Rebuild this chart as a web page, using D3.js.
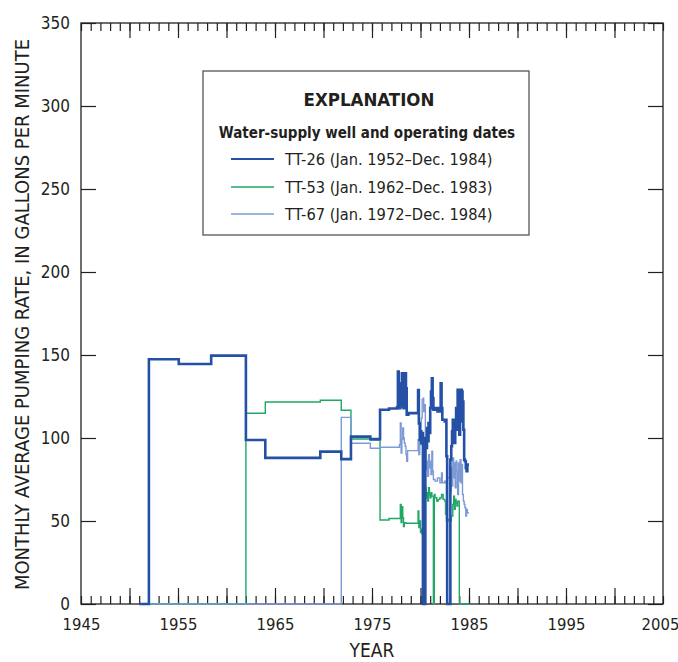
<!DOCTYPE html>
<html>
<head>
<meta charset="utf-8">
<script src="https://cdn.jsdelivr.net/npm/d3@7"></script>
<style>
  html, body { margin: 0; padding: 0; background: #ffffff; }
  svg text { font-family: "Liberation Sans Narrow", "DejaVu Sans Condensed", "Arial Narrow", sans-serif; fill: #231f20; }
</style>
</head>
<body>
<script>
// ---------------- DATA (step series: [decimal year, gallons per minute]) ----------------
const xTickLabels = [1945, 1955, 1965, 1975, 1985, 1995, 2005];
const yTickLabels = [0, 50, 100, 150, 200, 250, 300, 350];

const seriesNames = ["TT-26 (Jan. 1952\u2013Dec. 1984)", "TT-53 (Jan. 1962\u2013Dec. 1983)", "TT-67 (Jan. 1972\u2013Dec. 1984)"];

const tt26 = [
  [1951.0, 0], [1952.0, 147.4], [1955.08, 144.6], [1958.42, 149.6], [1962.0, 98.8], [1964.0, 88.0],
  [1969.67, 91.8], [1971.83, 87.3], [1972.83, 100.8], [1974.83, 99.3], [1975.83, 117.0], [1976.75, 117.8],
  [1977.58, 118.5], [1977.67, 140], [1977.75, 124], [1977.83, 118], [1977.92, 133], [1978.0, 119],
  [1978.08, 139], [1978.17, 120], [1978.25, 118], [1978.33, 126], [1978.42, 139], [1978.5, 130],
  [1978.58, 114], [1978.75, 115], [1979.75, 128.9], [1979.83, 108.8], [1979.92, 98.8], [1980.0, 104],
  [1980.08, 97], [1980.17, 103], [1980.25, 0], [1980.5, 100], [1980.58, 94], [1980.67, 106],
  [1980.75, 98], [1980.83, 109], [1980.92, 103], [1981.0, 118], [1981.08, 128], [1981.17, 136],
  [1981.25, 124], [1981.33, 117], [1981.5, 118], [1981.75, 116], [1982.0, 118], [1982.08, 133],
  [1982.17, 118], [1982.25, 111], [1982.5, 110], [1982.58, 111], [1982.67, 89], [1982.75, 0],
  [1983.08, 87], [1983.17, 95], [1983.25, 104], [1983.33, 111], [1983.42, 100], [1983.5, 97],
  [1983.58, 108], [1983.67, 118], [1983.75, 105], [1983.83, 129], [1983.92, 127], [1984.0, 102],
  [1984.08, 110], [1984.17, 129], [1984.25, 128], [1984.33, 122], [1984.42, 105], [1984.5, 87],
  [1984.58, 86], [1984.67, 82], [1984.75, 80], [1984.83, 84], [1985.0, 84]
];

const tt53 = [
  [1952.0, 0], [1962.0, 114.9], [1964.0, 121.7], [1969.67, 122.7], [1971.83, 116.7], [1972.83, 99.4],
  [1974.83, 98.8], [1975.83, 50.6], [1976.75, 51.5], [1977.83, 51.5], [1977.92, 60], [1978.0, 49],
  [1978.08, 58.6], [1978.17, 52], [1978.25, 46.6], [1978.33, 49], [1978.5, 48.6], [1979.75, 56],
  [1979.83, 46], [1979.92, 50], [1980.0, 43], [1980.08, 45], [1980.17, 42], [1980.25, 44],
  [1980.33, 42], [1980.42, 56], [1980.5, 70], [1980.58, 64], [1980.67, 67], [1980.75, 62],
  [1980.83, 70], [1980.92, 66], [1981.0, 64], [1981.08, 67], [1981.17, 65], [1981.33, 0],
  [1981.42, 66], [1981.5, 64], [1981.67, 62], [1981.83, 63], [1982.0, 64], [1982.17, 66],
  [1982.33, 63], [1982.5, 62], [1982.58, 54], [1982.67, 50], [1982.83, 51], [1983.0, 50],
  [1983.17, 53], [1983.33, 60], [1983.42, 65], [1983.5, 57], [1983.58, 63], [1983.67, 61],
  [1983.75, 59], [1983.83, 62], [1984.0, 0], [1985.08, 0]
];

const tt67 = [
  [1952.0, 0], [1971.83, 112.4], [1972.83, 96.8], [1974.83, 93.8], [1975.83, 94.4], [1977.83, 96],
  [1977.92, 109], [1978.0, 91], [1978.08, 99], [1978.17, 106], [1978.25, 100], [1978.33, 97],
  [1978.42, 95], [1978.5, 90], [1978.58, 86], [1978.67, 92.4], [1979.75, 99], [1979.83, 90],
  [1979.92, 108], [1980.0, 96], [1980.08, 112], [1980.17, 123], [1980.25, 124], [1980.33, 116],
  [1980.42, 120], [1980.5, 96], [1980.58, 81], [1980.67, 86], [1980.75, 77], [1980.83, 90],
  [1980.92, 82], [1981.0, 86], [1981.08, 78], [1981.17, 92], [1981.25, 80], [1981.33, 75],
  [1981.5, 74], [1981.75, 76], [1982.0, 73], [1982.17, 79], [1982.25, 73], [1982.5, 74],
  [1982.58, 73], [1982.67, 54], [1982.75, 76], [1983.0, 83], [1983.08, 68], [1983.17, 82],
  [1983.25, 71], [1983.33, 88], [1983.42, 76], [1983.5, 85], [1983.58, 70], [1983.67, 86],
  [1983.75, 80], [1983.83, 66], [1983.92, 85], [1984.0, 74], [1984.08, 87], [1984.17, 73],
  [1984.25, 84], [1984.33, 66], [1984.42, 62], [1984.5, 60], [1984.58, 58], [1984.67, 53],
  [1984.75, 57], [1984.83, 55], [1985.0, 55]
];

// ---------------- CHART ----------------
const W = 678, H = 662;
const m = { left: 81, right: 15, top: 23, bottom: 58 };
const svg = d3.select("body").append("svg").attr("width", W).attr("height", H);

const x = d3.scaleLinear().domain([1945, 2005]).range([m.left, W - m.right]);
const y = d3.scaleLinear().domain([0, 350]).range([H - m.bottom, m.top]);

const axisColor = "#231f20";
const minorYears = d3.range(1945, 2006, 1);
const majorYears = d3.range(1950, 2005, 5);

function styleAxis(g) {
  g.select(".domain").remove();
  g.selectAll(".tick line").attr("stroke", axisColor).attr("stroke-width", 1.2);
}

// bottom minor / major ticks (inward)
svg.append("g").attr("transform", `translate(0,${y(0)})`)
  .call(d3.axisBottom(x).tickValues(minorYears).tickSize(-8).tickFormat(""))
  .call(styleAxis);
svg.append("g").attr("transform", `translate(0,${y(0)})`)
  .call(d3.axisBottom(x).tickValues(majorYears).tickSize(-16).tickFormat(""))
  .call(styleAxis);
// bottom labels
svg.append("g").attr("transform", `translate(0,${y(0)})`)
  .call(d3.axisBottom(x).tickValues(xTickLabels).tickSize(0).tickPadding(14).tickFormat(d3.format("d")))
  .call(styleAxis)
  .call(g => g.selectAll("text").attr("font-size", 16.5).style("fill", axisColor)
    .attr("dx", d => d === 2005 ? -3 : 0));

// top ticks (inward)
svg.append("g").attr("transform", `translate(0,${y(350)})`)
  .call(d3.axisTop(x).tickValues(minorYears).tickSize(-8).tickFormat(""))
  .call(styleAxis);
svg.append("g").attr("transform", `translate(0,${y(350)})`)
  .call(d3.axisTop(x).tickValues(majorYears).tickSize(-15).tickFormat(""))
  .call(styleAxis);

// left ticks + labels
svg.append("g").attr("transform", `translate(${x(1945)},0)`)
  .call(d3.axisLeft(y).tickValues(yTickLabels).tickSize(-15).tickPadding(11).tickFormat(d3.format("d")))
  .call(styleAxis)
  .call(g => g.selectAll("text").attr("font-size", 17).style("fill", axisColor));
// right ticks
svg.append("g").attr("transform", `translate(${x(2005)},0)`)
  .call(d3.axisRight(y).tickValues(yTickLabels).tickSize(-15).tickFormat(""))
  .call(styleAxis);

// frame
svg.append("rect")
  .attr("x", x(1945)).attr("y", y(350))
  .attr("width", x(2005) - x(1945)).attr("height", y(0) - y(350))
  .attr("fill", "none").attr("stroke", axisColor).attr("stroke-width", 1.3);

// series lines
const line = d3.line().x(d => x(d[0])).y(d => y(d[1])).curve(d3.curveStepAfter);
const series = [
  { data: tt53, color: "#1ea765", width: 1.4 },
  { data: tt67, color: "#7d9ad6", width: 1.4 },
  { data: tt26, color: "#2450a5", width: 2.6 }
];
svg.append("g").selectAll("path").data(series).join("path")
  .attr("d", d => line(d.data))
  .attr("fill", "none")
  .attr("stroke", d => d.color)
  .attr("stroke-width", d => d.width)
  .attr("stroke-linejoin", "miter");

// legend
const lg = svg.append("g");
lg.append("rect").attr("x", 203).attr("y", 71).attr("width", 326).attr("height", 164)
  .attr("fill", "#ffffff").attr("stroke", "#555555").attr("stroke-width", 1.3);
lg.append("text").attr("x", 369).attr("y", 106).attr("text-anchor", "middle")
  .attr("font-size", 18.5).attr("font-weight", "bold").text("EXPLANATION");
lg.append("text").attr("x", 367).attr("y", 138).attr("text-anchor", "middle")
  .attr("font-size", 15).attr("font-weight", "bold").text("Water-supply well and operating dates");
const legendItems = [
  { name: seriesNames[0], color: "#2450a5", width: 2.2 },
  { name: seriesNames[1], color: "#1ea765", width: 1.4 },
  { name: seriesNames[2], color: "#7d9ad6", width: 1.4 }
];
const rowY = [159, 187, 214];
legendItems.forEach((it, i) => {
  lg.append("line").attr("x1", 231).attr("x2", 274).attr("y1", rowY[i]).attr("y2", rowY[i])
    .attr("stroke", it.color).attr("stroke-width", it.width);
  lg.append("text").attr("x", 285).attr("y", rowY[i] + 6).attr("font-size", 16.3).text(it.name);
});

// axis titles
svg.append("text").attr("x", x(1975)).attr("y", 657).attr("text-anchor", "middle")
  .attr("font-size", 19).text("YEAR");
svg.append("text").attr("transform", `translate(29,${(y(0) + y(350)) / 2 + 1}) rotate(-90)`)
  .attr("text-anchor", "middle").attr("font-size", 20)
  .text("MONTHLY AVERAGE PUMPING RATE, IN GALLONS PER MINUTE");
</script>
</body>
</html>
